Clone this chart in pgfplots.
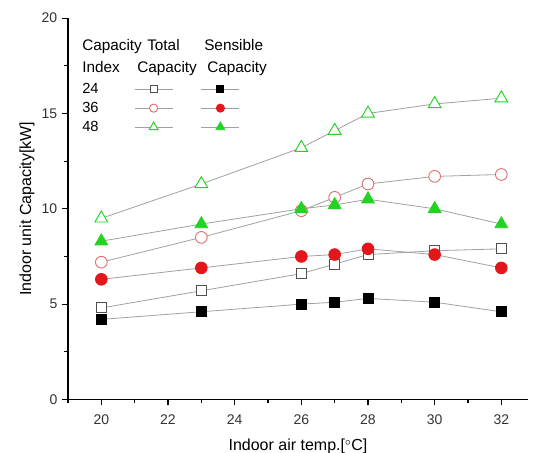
\documentclass[border=0pt]{standalone}
\usepackage{pgfplots}
\pgfplotsset{compat=1.18}
\usepackage{fontspec}
\setmainfont{Liberation Sans}

\definecolor{lgray}{HTML}{A0A0A0}
\definecolor{mred}{HTML}{E3161B}
\definecolor{lred}{HTML}{E07070}
\definecolor{mgreen}{HTML}{22D322}
\definecolor{dgray}{HTML}{505050}

\pgfplotstableread{
x   t24  s24  t36  s36  t48  s48
20  4.8  4.2  7.2  6.3  9.5  8.3
23  5.7  4.6  8.5  6.9  11.3 9.2
26  6.6  5.0  9.9  7.5  13.2 10.0
27  7.1  5.1  10.6 7.6  14.1 10.2
28  7.6  5.3  11.3 7.9  15.0 10.5
30  7.8  5.1  11.7 7.6  15.5 10.0
32  7.9  4.6  11.8 6.9  15.8 9.2
}\capdata

\begin{document}
\begin{tikzpicture}
\useasboundingbox (-51pt,-40.1pt) rectangle (348.75pt,299.6pt);
\begin{axis}[
    scale only axis,
    width=345pt, height=286pt,
    xmin=19, xmax=32.8,
    ymin=0, ymax=20,
    axis x line=bottom, axis y line=left,
    axis line style={-, line width=0.8pt},
    xtick={20,22,...,32}, minor xtick={19,21,...,31},
    ytick={0,5,...,20}, minor ytick={2.5,7.5,...,17.5},
    tick align=outside,
    major tick length=4.5pt, minor tick length=3pt,
    tick style={black, line width=0.8pt},
    /pgf/number format/assume math mode=true,
    tick label style={font=\fontsize{10.5}{12}\selectfont, color=black!80},
    xticklabel style={yshift=-3.5pt},
    label style={font=\fontsize{12}{14}\selectfont},
    xlabel={Indoor air temp.[$^{\circ}$C]},
    xlabel style={yshift=-4pt},
    ylabel={Indoor unit Capacity[kW]},
    ylabel style={yshift=-1.5pt},
    every axis plot/.append style={color=lgray, line width=0.6pt},
    legend columns=3,
    legend cell align=left,
    legend style={draw=none, fill=none, inner sep=0pt,
        at={(axis cs:19.42,16.64)}, anchor=north west,
        font=\fontsize{11}{13}\selectfont, row sep=4.25pt, column sep=0pt,
        nodes={inner sep=0pt, text height=8pt, text depth=2pt}},
    legend image code/.code={
        \draw[mark repeat=2, mark phase=2, every mark/.append style={scale=0.7}]
            plot coordinates {(0cm,0cm) (0.5cm,0cm) (1cm,0cm)};},
]
\addlegendimage{empty legend}\addlegendentry{\makebox[39pt][l]{24}}
\addplot[mark=square*, mark size=3.75pt, mark options={draw=dgray, fill=white, line width=0.7pt}]
    table[x=x, y=t24] {\capdata};
\addlegendentry{\makebox[21pt]{}}
\addplot[mark=square*, mark size=3.75pt, mark options={draw=black, fill=black}]
    table[x=x, y=s24] {\capdata};
\addlegendentry{\makebox[2pt]{}}

\addlegendimage{empty legend}\addlegendentry{\makebox[39pt][l]{36}}
\addplot[mark=*, mark size=4.4pt, mark options={draw=lred, fill=white, line width=0.7pt}]
    table[x=x, y=t36] {\capdata};
\addlegendentry{\makebox[21pt]{}}
\addplot[mark=*, mark size=4.4pt, mark options={draw=mred, fill=mred}]
    table[x=x, y=s36] {\capdata};
\addlegendentry{\makebox[2pt]{}}

\addlegendimage{empty legend}\addlegendentry{\makebox[39pt][l]{48}}
\addplot[mark=triangle*, mark size=5.5pt, mark options={draw=mgreen, fill=white, line width=0.7pt}]
    table[x=x, y=t48] {\capdata};
\addlegendentry{\makebox[21pt]{}}
\addplot[mark=triangle*, mark size=5.5pt, mark options={draw=mgreen, fill=mgreen}]
    table[x=x, y=s48] {\capdata};
\addlegendentry{\makebox[2pt]{}}

% legend header
\begin{scope}[every node/.style={anchor=base west, inner sep=0pt, font=\fontsize{11.5}{13}\selectfont}]
\node at (axis cs:19.42,18.30) {Capacity};
\node at (axis cs:21.37,18.30) {Total};
\node at (axis cs:23.08,18.30) {Sensible};
\node at (axis cs:19.42,17.15) {Index};
\node at (axis cs:21.07,17.15) {Capacity};
\node at (axis cs:23.17,17.15) {Capacity};
\end{scope}
\end{axis}
\end{tikzpicture}
\end{document}
